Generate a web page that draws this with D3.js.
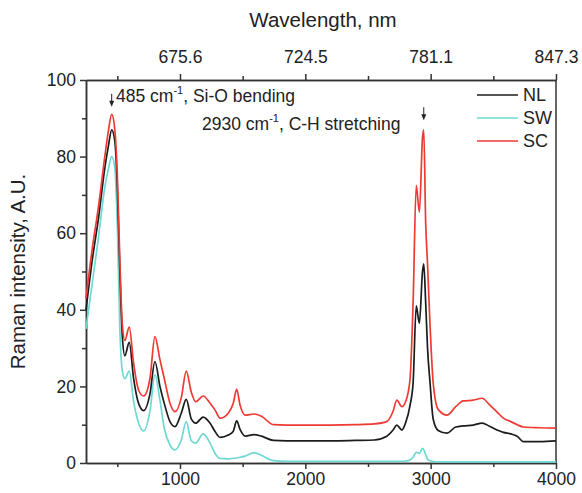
<!DOCTYPE html>
<html>
<head>
<meta charset="utf-8">
<script src="https://cdn.jsdelivr.net/npm/d3@7"></script>
<style>
  body { margin: 0; background: #fff; }
  text { font-family: "Liberation Sans", Arial, sans-serif; fill: #222; }
</style>
</head>
<body>
<div id="chart"></div>
<script>
// Raman shift, cm-1
var shift = [250, 300, 350, 400, 430, 455, 480, 500, 520, 540, 560, 595, 630, 670, 710, 760, 800, 840, 875, 920,
  960, 1010, 1050, 1090, 1125, 1185, 1240, 1280, 1320, 1385, 1425, 1452, 1480, 1520, 1590, 1650, 1745, 1850, 2000, 2200,
  2400, 2550, 2650, 2700, 2730, 2770, 2800, 2835, 2860, 2885, 2910, 2935, 2945, 2960, 2975, 2995, 3020, 3060, 3130, 3200,
  3260, 3340, 3410, 3470, 3530, 3580, 3640, 3690, 3740, 3870, 4000];

var NL = [40, 53, 64, 77, 83, 87, 84, 72, 50, 33, 28, 31.5, 22, 15.5, 13.7, 18, 26.5, 20, 15.5, 10.8,
  9.5, 13, 16.6, 11.5, 10.4, 12, 10.4, 8.2, 6.7, 7.3, 8.3, 11, 8.7, 7, 7.4, 7, 5.9, 5.8, 5.8, 5.8,
  5.9, 6, 7, 8.6, 9.9, 8.6, 10.5, 15, 21, 41, 36.5, 50, 52, 42, 30, 21, 11.5, 8.5, 7.8, 9.4,
  9.7, 9.9, 10.4, 9.6, 8.6, 8, 7.6, 7, 5.6, 5.6, 5.8];

var SW = [35, 47, 59, 72, 77, 80, 77, 62, 35, 24, 22, 24, 16, 10.4, 8.4, 13.5, 23, 16.4, 9, 4.7,
  3.4, 6, 10.8, 5.8, 5.2, 7.6, 5.2, 2.5, 1.2, 1.1, 1.2, 1.3, 1.5, 1.8, 2.7, 2, 0.6, 0.4, 0.4, 0.4,
  0.4, 0.4, 0.4, 0.4, 0.4, 0.4, 0.5, 0.8, 1.5, 2.8, 2.5, 3.8, 3.5, 2.2, 1, 0.6, 0.4, 0.3, 0.3, 0.3,
  0.3, 0.3, 0.3, 0.3, 0.3, 0.3, 0.3, 0.3, 0.3, 0.3, 0.3];

var SC = [43, 56, 67, 80, 87, 91, 87, 75, 53, 36, 32, 35.5, 26, 19, 17.5, 22, 33, 27, 22, 15.6,
  13.4, 17, 24, 18.5, 16, 17.5, 15.6, 13.8, 11.7, 13, 15.6, 19.2, 15, 12.5, 12.8, 12.2, 10, 9.9, 9.9, 9.9,
  10, 10.2, 10.8, 13.5, 16.4, 14.7, 16, 21.7, 42, 72.5, 65.5, 85, 87, 63, 52, 36, 21, 14, 12.5, 14.7,
  16.2, 16.4, 16.9, 15.2, 13.3, 11.7, 10.8, 10, 9.4, 9.2, 9.1];

var seriesNames = ["NL", "SW", "SC"];
var seriesColors = ["#1c1c1c", "#6fd8d2", "#ee3a33"];

var bottomTicks = [1000, 2000, 3000, 4000];
var topTicks = [1000, 2000, 3000, 4000];
var topTickLabels = ["675.6", "724.5", "781.1", "847.3"];
var yTicks = [0, 20, 40, 60, 80, 100];

var margin = {top: 80, right: 26, bottom: 30, left: 86},
    width = 582 - margin.left - margin.right,
    height = 493 - margin.top - margin.bottom;

var svg = d3.select("#chart")
    .append("svg")
    .attr("width", 582)
    .attr("height", 493)
    .append("g")
    .attr("transform", "translate(" + margin.left + "," + margin.top + ")");

var x = d3.scaleLinear().domain([250, 4000]).range([0, width]);
var y = d3.scaleLinear().domain([0, 100]).range([height, 0]);

var axisColor = "#333";

// minor ticks
var minorX = d3.range(500, 4001, 1000);
var minorY = d3.range(10, 100, 20);

// bottom axis
svg.append("g")
    .attr("transform", "translate(0," + height + ")")
    .call(d3.axisBottom(x).tickValues(bottomTicks).tickSize(6).tickSizeOuter(0).tickPadding(4)
        .tickFormat(d3.format("d")));
svg.append("g")
    .attr("transform", "translate(0," + height + ")")
    .call(d3.axisBottom(x).tickValues(minorX).tickSize(4).tickSizeOuter(0).tickFormat(""));

// top axis
svg.append("g")
    .call(d3.axisTop(x).tickValues(topTicks).tickSize(6).tickSizeOuter(0).tickPadding(11)
        .tickFormat(function(d, i) { return topTickLabels[i]; }));
svg.append("g")
    .call(d3.axisTop(x).tickValues(minorX).tickSize(4).tickSizeOuter(0).tickFormat(""));

// left axis
svg.append("g")
    .call(d3.axisLeft(y).tickValues(yTicks).tickSize(6).tickSizeOuter(0).tickPadding(4));
svg.append("g")
    .call(d3.axisLeft(y).tickValues(minorY).tickSize(4).tickSizeOuter(0).tickFormat(""));

// right spine
svg.append("line")
    .attr("x1", width).attr("x2", width)
    .attr("y1", 0).attr("y2", height);

svg.selectAll(".domain, .tick line, line")
    .attr("stroke", axisColor)
    .attr("stroke-width", 1.5);
svg.selectAll(".tick text")
    .attr("font-size", 17.5)
    .attr("fill", "#222")
    .style("font-family", "Liberation Sans, Arial, sans-serif");

// lines
var seriesData = [NL, SW, SC];
var line = d3.line()
    .x(function(d) { return x(d[0]); })
    .y(function(d) { return y(d[1]); })
    .curve(d3.curveMonotoneX);

var order = [1, 0, 2];
order.forEach(function(k) {
    var pts = shift.map(function(s, i) { return [s, seriesData[k][i]]; });
    svg.append("path")
        .datum(pts)
        .attr("fill", "none")
        .attr("stroke", seriesColors[k])
        .attr("stroke-width", 1.7)
        .attr("stroke-linejoin", "round")
        .attr("d", line);
});

// axis titles
svg.append("text")
    .attr("x", width / 2 + 2)
    .attr("y", -53)
    .attr("text-anchor", "middle")
    .attr("font-size", 20.5)
    .text("Wavelength, nm");

svg.append("text")
    .attr("transform", "translate(" + (-61) + "," + (height / 2) + ") rotate(-90)")
    .attr("text-anchor", "middle")
    .attr("font-size", 20.5)
    .text("Raman intensity, A.U.");

// legend
var legend = svg.append("g").attr("transform", "translate(" + (width - 79) + ",15)");
seriesNames.forEach(function(n, i) {
    legend.append("line")
        .attr("x1", 0).attr("x2", 41)
        .attr("y1", i * 23).attr("y2", i * 23)
        .attr("stroke", seriesColors[i])
        .attr("stroke-width", 1.7);
    legend.append("text")
        .attr("x", 46)
        .attr("y", i * 23)
        .attr("dy", "0.35em")
        .attr("font-size", 18)
        .text(n);
});

// annotations
function annot(xv, yv, tx, ty, num, rest) {
    var t = svg.append("text")
        .attr("x", tx).attr("y", ty)
        .attr("font-size", 17.5);
    t.append("tspan").text(num + " cm");
    t.append("tspan").attr("font-size", 11).attr("dy", -8).text("-1");
    t.append("tspan").attr("dy", 8).text(", " + rest);

    var ax = x(xv), ay = y(yv);
    svg.append("line")
        .attr("x1", ax).attr("x2", ax)
        .attr("y1", ay - 13).attr("y2", ay - 4)
        .attr("stroke", "#222").attr("stroke-width", 1);
    svg.append("path")
        .attr("d", "M" + (ax - 2.5) + "," + (ay - 6) + "L" + (ax + 2.5) + "," + (ay - 6) + "L" + ax + "," + ay + "Z")
        .attr("fill", "#222");
}
annot(455, 93, 30, 22, "485", "Si-O bending");
annot(2945, 89.5, 116, 50, "2930", "C-H stretching");
</script>
</body>
</html>
